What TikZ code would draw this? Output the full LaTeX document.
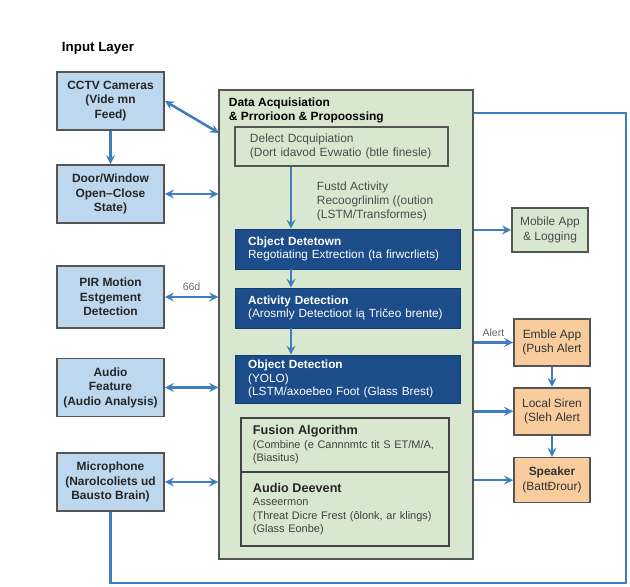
\documentclass[tikz,border=0pt]{standalone}
\usepackage{fontspec}
\setmainfont{Liberation Sans}
\usepackage{tikz}
\usetikzlibrary{arrows,positioning}
\definecolor{inblue}{RGB}{189,215,238}
\definecolor{acqgreen}{RGB}{216,232,208}
\definecolor{darknavy}{RGB}{28,76,138}
\definecolor{peach}{RGB}{249,204,158}
\definecolor{arrblue}{RGB}{62,126,186}
\definecolor{boxgray}{RGB}{85,85,85}

\begin{document}
\begin{tikzpicture}[
x = 0.025cm, y = -0.025cm,
inrect/.style={rectangle, align = center, 
draw = boxgray, line width = 1.2,
fill = inblue, text = black!85, minimum width = 2.675cm, minimum height = 1.45cm,
font = \fontsize{8.5}{10.3}\selectfont\bfseries},
acqrect/.style={rectangle, draw = boxgray, line width = 1,
fill = acqgreen, minimum width = 6.35cm, minimum height = 11.725cm},
lgrect/.style={rectangle, align = left, draw = boxgray, line width = 1.2,
fill = acqgreen, text = black!70, inner xsep = .375cm, text width = 4.575cm, minimum height = .975cm,
font = \fontsize{8.5}{10}\selectfont},
darkrect/.style={rectangle, align = left, draw = darknavy!80!black,
fill = darknavy, text = white, inner xsep = .33cm, text width = 4.965cm, minimum height = 1cm,
font = \fontsize{8.4}{9.8}\selectfont},
fusrect/.style={rectangle, align = left, draw = boxgray!80!black, line width = 1.2,
fill = acqgreen, text = black!75, inner xsep = .3cm, text width = 4.6cm, outer sep = 0pt,
font = \fontsize{7.8}{9.6}\selectfont},
outrect/.style={rectangle, align = center, draw = boxgray, line width = 1.2,
fill = peach, text = black!80, minimum width = 1.9cm, minimum height = 1.175cm,
font = \fontsize{8.5}{10.3}\selectfont},
lbl/.style={font = \fontsize{7.5}{9}\selectfont, text = black!60},
modarr/.style={>=stealth, ->, line width = 1.8, draw = arrblue},
dblarr/.style={>=stealth, <->, line width = 1.8, draw = arrblue},
loopline/.style={line width = 1.6, draw = arrblue},
node distance = 1.72cm]

\useasboundingbox (0,0) rectangle (630,586);

\node[anchor = west, font = \fontsize{9.5}{11}\selectfont\bfseries] (IL) at (57,48) {Input Layer};

% input layer
\node[inrect] (CC) at (110.5,101) {CCTV Cameras\\(Vide mn\\Feed)};
\node[inrect] (DW) at (110.5,194) {Door/Window\\Open--Close\\State)};
\node[inrect, minimum height = 1.55cm] (PIR) at (110.5,297) {PIR Motion\\Estgement\\Detection};
\node[inrect] (AF) at (110.5,387.5) {Audio\\Feature\\(Audio Analysis)};
\node[inrect] (MP) at (110.5,482) {Microphone\\(Narolcoliets ud\\Bausto Brain)};

% acquisition and processing
\node[acqrect] (DA) at (346,324.5) {};
\node[anchor = north west, align = left, font = \fontsize{8.5}{10}\selectfont\bfseries] (DAT) at (224,93) {Data Acquisiation\\\& Prrorioon \& Propoossing};
\node[lgrect] (DQ) at (341.5,146.5) {Delect Dcquipiation\\(Dort idavod Evwatio (btle finesle)};
\node[anchor = west, align = left, text = black!70, font = \fontsize{8.5}{10}\selectfont] (FT) at (312,201) {Fustd Activity\\Recoogrlinlim ((oution\\(LSTM/Transformes)};
\node[darkrect] (OD) at (347.5,249) {\textbf{Cbject Detetown}\\Regotiating Extrection (ta firwcrliets)};
\node[darkrect] (AD) at (347.5,308) {\textbf{Activity Detection}\\(Arosmly Detectioot ią Tričeo brente)};
\node[darkrect, minimum height = 1.2cm] (OB) at (347.5,379) {\textbf{Object Detection}\\(YOLO)\\(LSTM/axoebeo Foot (Glass Brest)};
\node[fusrect, minimum height = 1.35cm] (FA) at (345,445) {{\fontsize{9}{10}\selectfont\bfseries\color{black!85}Fusion Algorithm}\\(Combine (e Cannnmtc tit S ET/M/A,\\(Biasitus)};
\node[fusrect, minimum height = 1.85cm, below = 0pt of FA] (AE) {{\fontsize{9}{10}\selectfont\bfseries\color{black!85}Audio Deevent}\\Asseermon\\(Threat Dicre Frest (ôlonk, ar klings)\\(Glass Eonbe)};

% outputs
\node[outrect, fill = acqgreen, text = black!70, minimum height = 1.1cm] (MA) at (550,230) {Mobile App\\\& Logging};
\node[outrect] (EA) at (552,342.5) {Emble App\\(Push Alert};
\node[outrect, below of = EA] (LS) {Local Siren\\(Sleh Alert};
\node[outrect, below of = LS, minimum height = 1.125cm] (SP) {\textbf{Speaker}\\(BattĐrour)};

\coordinate (CIN) at (219,133);
\coordinate (AX) at (291,0);
\coordinate (LB) at (626,583);
\coordinate (LT) at (626,113);

\draw[modarr] (CC) -- (DW);
\draw[dblarr] (CC.east) -- (CIN);
\draw[dblarr] (DW.east) -- (DW.east -| DA.west);
\draw[dblarr] (PIR.east) -- node[above, lbl] {66d} (PIR.east -| DA.west);
\draw[dblarr] (AF.east) -- (AF.east -| DA.west);
\draw[dblarr] (MP.east) -- (MP.east -| DA.west);

\draw[modarr] (AX |- DQ.south) -- (AX |- OD.north);
\draw[modarr] (AX |- OD.south) -- (AX |- AD.north);
\draw[modarr] (AX |- AD.south) -- (AX |- OB.north);

\draw[modarr] (MA.west -| DA.east) -- (MA.west);
\draw[modarr] (EA.west -| DA.east) -- node[above, lbl] {Alert} (EA.west);
\draw[modarr] (LS.west -| DA.east) -- (LS.west);
\draw[modarr] (SP.west -| DA.east) -- (SP.west);
\draw[modarr] (EA) -- (LS);
\draw[modarr] (LS) -- (SP);

\draw[loopline] (MP.south) |- (LB) -- (LT) -- (LT -| DA.east);

\end{tikzpicture}
\end{document}
